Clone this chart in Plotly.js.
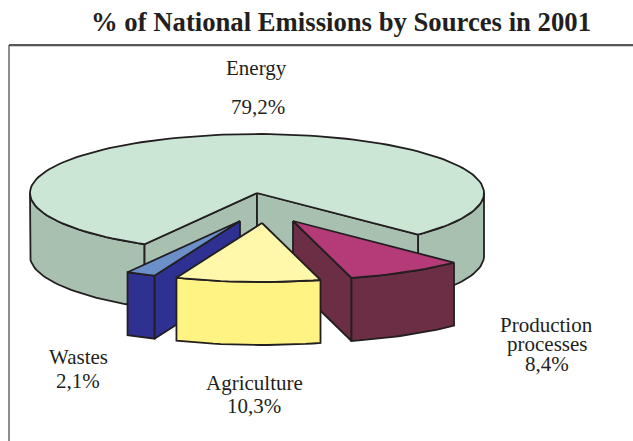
<!DOCTYPE html>
<html>
<head>
<meta charset="utf-8">
<script src="https://cdn.plot.ly/plotly-3.0.1.min.js"></script>
<style>html,body{margin:0;padding:0;background:#fff}#chart{width:633px;height:441px}</style>
</head>
<body>
<div id="chart"></div>
<script>
// National emission shares for 2001, in the clockwise order of the pie.
const categories = ['Energy', 'Production processes', 'Agriculture', 'Wastes'];
const shares = [79.2, 8.4, 10.3, 2.1];

// Tilted-pie geometry, in plot units (the axes run 1:1 with the page).
const FIRST_ANGLE = 209.7;
const CENTER = [257, 193];
const RX = 227, RY = 59, DEPTH = 63;
const OFFSETS = [[0, 0], [36, 28], [5, 30], [-17, 28]];
const TOP_COLORS = ['#CBE6D5', '#B53A78', '#FFF8AA', '#6B8FC9'];
const SIDE_COLORS = ['#A8C0B0', '#6B2E45', '#FFF383', '#2E3192'];
const INK = '#231F20';

function rimPoint(angle, c, drop) {
  const r = angle * Math.PI / 180;
  return [c[0] + RX * Math.sin(r), c[1] - RY * Math.cos(r) + drop];
}
function arc(from, to, c, drop) {
  const pts = [];
  const n = Math.max(2, Math.ceil(Math.abs(to - from) / 2));
  for (let i = 0; i <= n; i++) pts.push(rimPoint(from + (to - from) * i / n, c, drop));
  return pts;
}
function face(points, color, name) {
  const closed = points.concat([points[0]]);
  return {
    type: 'scatter', mode: 'lines', name: name,
    x: closed.map(p => p[0]), y: closed.map(p => p[1]),
    fill: 'toself', fillcolor: color,
    line: {color: INK, width: 1.8, shape: 'linear'},
    hoverinfo: 'skip', showlegend: false
  };
}
// Radial wall running from the slice centre out to the rim at a given angle.
function radialWall(angle, c, color, name) {
  const p = rimPoint(angle, c, 0);
  return face([c, p, [p[0], p[1] + DEPTH], [c[0], c[1] + DEPTH]], color, name);
}
// Outer wall of the rim between two angles on the viewer's side.
function rimWall(from, to, c, color, name) {
  return face(arc(from, to, c, 0).concat(arc(to, from, c, DEPTH)), color, name);
}

// Slice angles accumulated from the shares, normalised to one turn.
const spans = [];
shares.reduce((start, s) => {
  spans.push([start, start + s * 3.6]);
  return start + s * 3.6;
}, FIRST_ANGLE);
const centers = OFFSETS.map(o => [CENTER[0] + o[0], CENTER[1] + o[1]]);
const topFace = i => face([centers[i]].concat(arc(spans[i][0], spans[i][1], centers[i], 0)), TOP_COLORS[i], categories[i]);

const eStart = spans[0][0], eEnd = spans[0][1] - 360;
const turn = a => a % 360;
const traces = [
  // Energy: the large body with its cut-out
  rimWall(eStart, 270, CENTER, SIDE_COLORS[0], categories[0]),
  rimWall(90, eEnd, CENTER, SIDE_COLORS[0], categories[0]),
  radialWall(eStart, CENTER, SIDE_COLORS[0], categories[0]),
  radialWall(eEnd, CENTER, SIDE_COLORS[0], categories[0]),
  topFace(0),
  // Wastes
  radialWall(turn(spans[3][0]), centers[3], SIDE_COLORS[3], categories[3]),
  rimWall(turn(spans[3][0]), turn(spans[3][1]), centers[3], SIDE_COLORS[3], categories[3]),
  topFace(3),
  // Production processes
  radialWall(turn(spans[1][1]), centers[1], SIDE_COLORS[1], categories[1]),
  rimWall(turn(spans[1][0]), turn(spans[1][1]), centers[1], SIDE_COLORS[1], categories[1]),
  topFace(1),
  // Agriculture
  rimWall(turn(spans[2][0]), turn(spans[2][1]), centers[2], SIDE_COLORS[2], categories[2]),
  topFace(2)
];

const pct = v => v.toFixed(1).replace('.', ',') + '%';
const label = (text, x, y) => ({
  text: text, x: x, y: y, xref: 'x', yref: 'y', showarrow: false,
  xanchor: 'center', yanchor: 'middle',
  font: {family: 'Liberation Serif', size: 21, color: INK}
});

const layout = {
  width: 633, height: 441,
  margin: {l: 0, r: 0, t: 0, b: 0},
  paper_bgcolor: '#fff', plot_bgcolor: '#fff',
  showlegend: false,
  title: {
    text: '<b>% of National Emissions by Sources in 2001</b>',
    x: 341 / 633, xanchor: 'center', y: 1 - 22 / 441, yanchor: 'middle',
    font: {family: 'Liberation Serif', size: 26.7, color: INK}
  },
  xaxis: {range: [0, 633], visible: false, fixedrange: true},
  yaxis: {range: [441, 0], visible: false, fixedrange: true},
  shapes: [
    {type: 'line', xref: 'x', yref: 'y', x0: 9, x1: 633, y0: 46.5, y1: 46.5, line: {color: '#CFCFCF', width: 1}},
    {type: 'line', xref: 'x', yref: 'y', x0: 9, x1: 633, y0: 45, y1: 45, line: {color: INK, width: 1.5}},
    {type: 'line', xref: 'x', yref: 'y', x0: 9, x1: 9, y0: 45, y1: 441, line: {color: '#444', width: 1.2}}
  ],
  annotations: [
    label(categories[0], 256, 68), label(pct(shares[0]), 258, 107),
    label('Production', 546.5, 325), label('processes', 546.5, 344), label(pct(shares[1]), 547, 364),
    label(categories[2], 254, 383), label(pct(shares[2]), 254, 406),
    label(categories[3], 78, 357), label(pct(shares[3]), 78, 381)
  ]
};

Plotly.newPlot('chart', traces, layout, {displayModeBar: false, staticPlot: true});
</script>
</body>
</html>
